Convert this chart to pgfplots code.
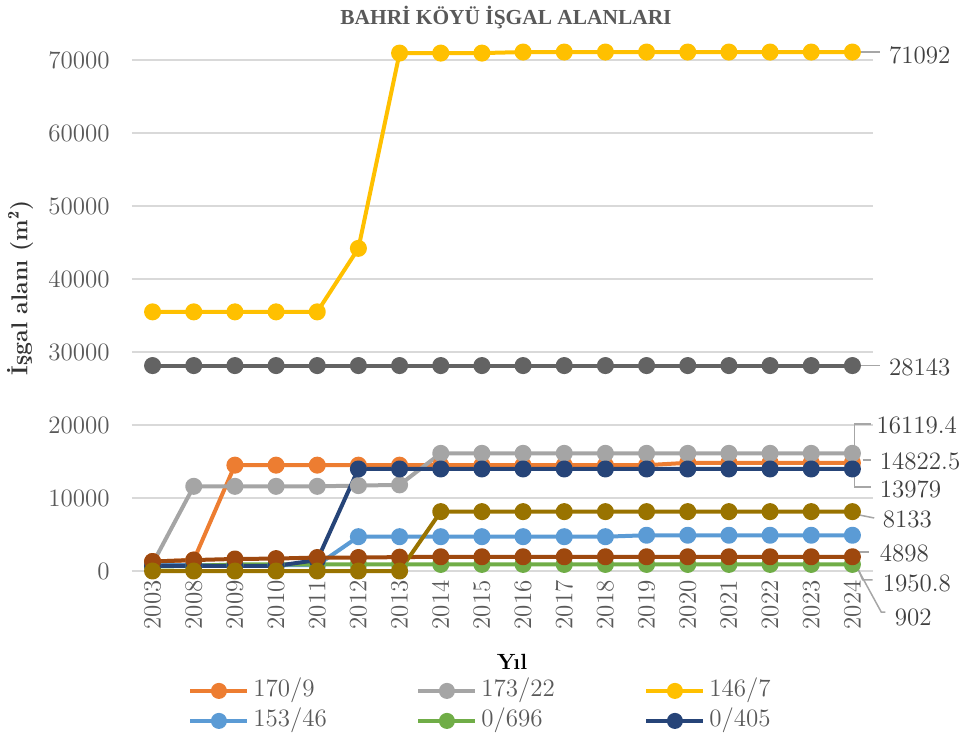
\documentclass[border=0pt]{standalone}
\usepackage{fontspec}
\newfontfamily\titlefont{Liberation Serif}
\usepackage{pgfplots}
\pgfplotsset{compat=1.18}
\usepackage{pgfplotstable}
\definecolor{cO}{HTML}{ED7D31}
\definecolor{cG}{HTML}{A5A5A5}
\definecolor{cY}{HTML}{FFC000}
\definecolor{cLB}{HTML}{5B9BD5}
\definecolor{cGr}{HTML}{70AD47}
\definecolor{cNv}{HTML}{264478}
\definecolor{cDG}{HTML}{636363}
\definecolor{cBr}{HTML}{9E480E}
\definecolor{cOl}{HTML}{997300}
\definecolor{txt}{HTML}{595959}
\definecolor{gridc}{HTML}{D9D9D9}
\definecolor{leadc}{HTML}{A6A6A6}
\pgfplotstableread{
idx o g y lb gr nv dg br ol
0  1300    1000    35500 800  600 700   28143 1300   0
1  1500    11600   35500 800  700 700   28143 1500   0
2  14500   11600   35500 800  902 700   28143 1650   0
3  14500   11600   35500 800  902 700   28143 1700   0
4  14500   11600   35500 800  902 1500  28143 1850   0
5  14500   11700   44200 4700 902 13979 28143 1850   0
6  14500   11800   70950 4700 902 13979 28143 1900   0
7  14500   16119.4 70950 4700 902 13979 28143 1950.8 8133
8  14500   16119.4 70950 4700 902 13979 28143 1950.8 8133
9  14500   16119.4 71092 4700 902 13979 28143 1950.8 8133
10 14500   16119.4 71092 4700 902 13979 28143 1950.8 8133
11 14500   16119.4 71092 4700 902 13979 28143 1950.8 8133
12 14500   16119.4 71092 4898 902 13979 28143 1950.8 8133
13 14822.5 16119.4 71092 4898 902 13979 28143 1950.8 8133
14 14822.5 16119.4 71092 4898 902 13979 28143 1950.8 8133
15 14822.5 16119.4 71092 4898 902 13979 28143 1950.8 8133
16 14822.5 16119.4 71092 4898 902 13979 28143 1950.8 8133
17 14822.5 16119.4 71092 4898 902 13979 28143 1950.8 8133
}\datatable
\begin{document}
\begin{tikzpicture}[font=\fontsize{12.5}{15}\selectfont]
\useasboundingbox (-66pt,-82.5pt) rectangle (416.5pt,285.5pt);
\begin{axis}[
  at={(0pt,0pt)}, anchor=south west, scale only axis,
  width=370.5pt, height=255.5pt,
  xmin=-0.5, xmax=17.5, ymin=0, ymax=70000,
  clip=false,
  axis line style={draw=none},
  major tick length=0pt,
  xtick={0,...,17},
  xticklabels={2003,2008,2009,2010,2011,2012,2013,2014,2015,2016,2017,2018,2019,2020,2021,2022,2023,2024},
  x tick label style={rotate=90, anchor=east, inner sep=0pt, text=txt},
  xticklabel shift=4.5pt,
  ytick={0,10000,...,70000},
  scaled y ticks=false,
  y tick label style={inner sep=0pt, text=txt, /pgf/number format/fixed, /pgf/number format/1000 sep={}},
  yticklabel shift=11pt,
  /pgf/number format/1000 sep={},
  /pgf/number format/assume math mode=true,
  ymajorgrids, grid style={color=gridc, line width=0.75pt},
  every axis plot/.append style={line width=2pt, mark=*, mark size=3.25pt, line join=round},
  legend image code/.code={\draw[mark repeat=2,mark phase=2,#1, mark size=3pt] plot coordinates {(0pt,0pt)(14.25pt,0pt)(28.5pt,0pt)};},
  legend style={at={(axis description cs:0.0756,-0.2104)}, anchor=north west, draw=none, fill=none,
    inner sep=0pt, nodes={inner sep=0pt, text height=9pt, text depth=3pt}, row sep=3pt,
    /tikz/every odd column/.append style={column sep=2pt},
    /tikz/every even column/.append style={column sep=0pt},
    text=txt, font=\fontsize{12.5}{15}\selectfont},
  legend columns=3, legend cell align=left,
]
\addplot[color=cO, mark options={fill=cO}] table[x=idx,y=o]{\datatable};
\addlegendentry{\makebox[81.5pt][l]{170/9}}
\addplot[color=cG, mark options={fill=cG}] table[x=idx,y=g]{\datatable};
\addlegendentry{\makebox[81.5pt][l]{173/22}}
\addplot[color=cY, mark options={fill=cY}] table[x=idx,y=y]{\datatable};
\addlegendentry{\makebox[81.5pt][l]{146/7}}
\addplot[color=cLB, mark options={fill=cLB}] table[x=idx,y=lb]{\datatable};
\addlegendentry{\makebox[81.5pt][l]{153/46}}
\addplot[color=cGr, mark options={fill=cGr}] table[x=idx,y=gr]{\datatable};
\addlegendentry{\makebox[81.5pt][l]{0/696}}
\addplot[color=cNv, mark options={fill=cNv}] table[x=idx,y=nv]{\datatable};
\addlegendentry{\makebox[81.5pt][l]{0/405}}
\addplot[color=cDG, mark options={fill=cDG}, forget plot] table[x=idx,y=dg]{\datatable};
\addplot[color=cBr, mark options={fill=cBr}, forget plot] table[x=idx,y=br]{\datatable};
\addplot[color=cOl, mark options={fill=cOl}, forget plot] table[x=idx,y=ol]{\datatable};
% leader lines
\draw[leadc, line width=0.75pt] (axis cs:17.12,71092) -- (axis cs:17.66,71092);
\draw[leadc, line width=0.75pt] (axis cs:17.12,28143) -- (axis cs:17.66,28143);
\draw[leadc, line width=0.75pt] (axis cs:17.05,16580) -- (axis cs:17.05,20140) -- (axis cs:17.46,20140);
\draw[leadc, line width=0.75pt] (axis cs:17.25,15200) -- (axis cs:17.46,15200);
\draw[leadc, line width=0.75pt] (axis cs:17.05,13150) -- (axis cs:17.05,11510) -- (axis cs:17.46,11510);
\draw[leadc, line width=0.75pt] (axis cs:17.17,7670) -- (axis cs:17.53,7260);
\draw[leadc, line width=0.75pt] (axis cs:17.12,2600) -- (axis cs:17.41,2600);
\draw[leadc, line width=0.75pt] (axis cs:17.05,1500) -- (axis cs:17.25,-1230) -- (axis cs:17.49,-1230);
\draw[leadc, line width=0.75pt] (axis cs:17.05,1100) -- (axis cs:17.7,-5620) -- (axis cs:17.8,-5620);
% data labels
\begin{scope}[every node/.style={anchor=west, inner sep=0pt, text=black!75}]
\node at (axis cs:17.88,70700) {71092};
\node at (axis cs:17.88,27950) {28143};
\node at (axis cs:17.58,20000) {16119.4};
\node at (axis cs:17.66,15070) {14822.5};
\node at (axis cs:17.66,11230) {13979};
\node at (axis cs:17.73,7120) {8133};
\node at (axis cs:17.66,2470) {4898};
\node at (axis cs:17.73,-1640) {1950.8};
\node at (axis cs:18.02,-6300) {902};
\end{scope}
\end{axis}
\node[text=txt, font=\titlefont\fontsize{10.7}{12}\selectfont\bfseries] at (187pt,276.5pt) {BAHRİ KÖYÜ İŞGAL ALANLARI};
\node[rotate=90, text=black!80, font=\fontsize{11.5}{14}\selectfont\bfseries] at (-56pt,141.5pt) {İşgal alanı (m$^{\mathbf{2}}$)};
\node[font=\fontsize{11}{13}\selectfont\bfseries] at (190pt,-45.5pt) {Yıl};
\end{tikzpicture}
\end{document}
